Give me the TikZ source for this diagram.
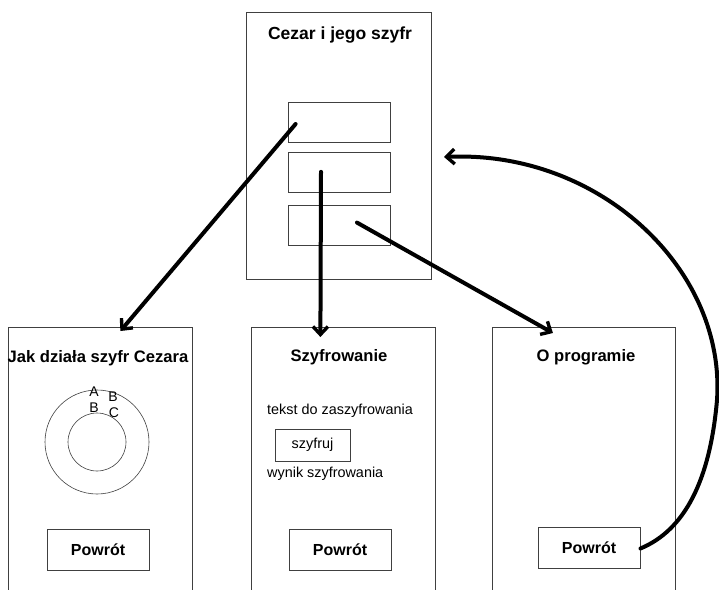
\documentclass[tikz,border=0pt]{standalone}
\usepackage{fontspec}
\setmainfont{Liberation Sans}
\usetikzlibrary{positioning,arrows.meta}

\tikzset{
  screen/.style = {draw=black!75, line width=0.8pt, rectangle, anchor=north west, inner sep=0pt},
  button/.style = {draw=black!75, line width=0.8pt, rectangle, inner sep=0pt},
  title/.style = {font=\bfseries\fontsize{16.6}{20}\selectfont, inner sep=0pt},
  label/.style = {font=\fontsize{14.4}{16}\selectfont, inner sep=0pt},
  letter/.style = {font=\fontsize{14}{16}\selectfont, inner sep=0pt},
  flow/.style = {line width=4pt, line cap=round, -{Straight Barb[length=8pt, width=15pt, line width=3.4pt]}},
}

\begin{document}
\begin{tikzpicture}[x=1pt, y=-1pt]
\useasboundingbox (0,0) rectangle (719,589);
\clip (0,0) rectangle (719,589);

% main menu
\node [screen, minimum width=185pt, minimum height=267pt] (main) at (246,12) {};
\node [title, font=\bfseries\fontsize{17.5}{20}\selectfont] (maint) at (340,35) {Cezar i jego szyfr};
\node [button, minimum width=102pt, minimum height=40pt] (btn1) at (339,122) {};
\node [button, minimum width=102pt, minimum height=40pt, below = 10pt of btn1] (btn2) {};
\node [button, minimum width=102pt, minimum height=40pt, below = 12pt of btn2] (btn3) {};

% screen: how it works
\node [screen, minimum width=184pt, minimum height=300pt] (jak) at (8,327) {};
\node [title] (jakt) at (98,358) {Jak działa szyfr Cezara};
\node [circle, draw=black!75, line width=0.6pt, minimum size=104pt, inner sep=0pt] (outer) at (97,442) {};
\node [circle, draw=black!75, line width=0.6pt, minimum size=58pt, inner sep=0pt] (inner) at (97,442) {};
\node [letter] (la) at (94,392) {A};
\node [letter] (lb) at (113,397) {B};
\node [letter] (lb2) at (94,408) {B};
\node [letter] (lc) at (114,413) {C};
\node [button, minimum width=102pt, minimum height=41pt, font=\bfseries\fontsize{16}{19}\selectfont] (back1) at (98,549.5) {Powrót};

% screen: encryption
\node [screen, minimum width=184pt, minimum height=300pt] (szyf) at (251,327) {};
\node [title] (szyft) at (339,357) {Szyfrowanie};
\node [label, anchor=west] (tekst) at (267,411) {tekst do zaszyfrowania};
\node [button, minimum width=75pt, minimum height=32pt, font=\fontsize{14.4}{16}\selectfont] (szyfruj) at (312.5,445) {szyfruj};
\node [label, anchor=west] (wynik) at (267,474) {wynik szyfrowania};
\node [button, minimum width=102pt, minimum height=41pt, font=\bfseries\fontsize{16}{19}\selectfont] (back2) at (340,549.5) {Powrót};

% screen: about
\node [screen, minimum width=183pt, minimum height=300pt] (oprog) at (492,327) {};
\node [title] (oprogt) at (586,357) {O programie};
\node [button, minimum width=102pt, minimum height=41pt, font=\bfseries\fontsize{16}{19}\selectfont] (back3) at (589,547.5) {Powrót};

% navigation
\coordinate (ret) at (444,157);
\draw [flow] ([xshift=8pt, yshift=-2pt]btn1.west) -- ([xshift=20pt, yshift=-4pt]jak.north);
\draw [flow] ([xshift=-18pt, yshift=1pt]btn2.center) -- ([xshift=-23pt, yshift=-10pt]szyf.north);
\draw [flow] ([xshift=18pt, yshift=3pt]btn3.center) -- ([xshift=-31pt, yshift=-6pt]oprog.north);
\draw [flow] ([yshift=-1pt]back3.east) .. controls (685,530) and (710,480) .. (717,400)
  .. controls (726,270) and (600,150) .. (ret);
\end{tikzpicture}
\end{document}
